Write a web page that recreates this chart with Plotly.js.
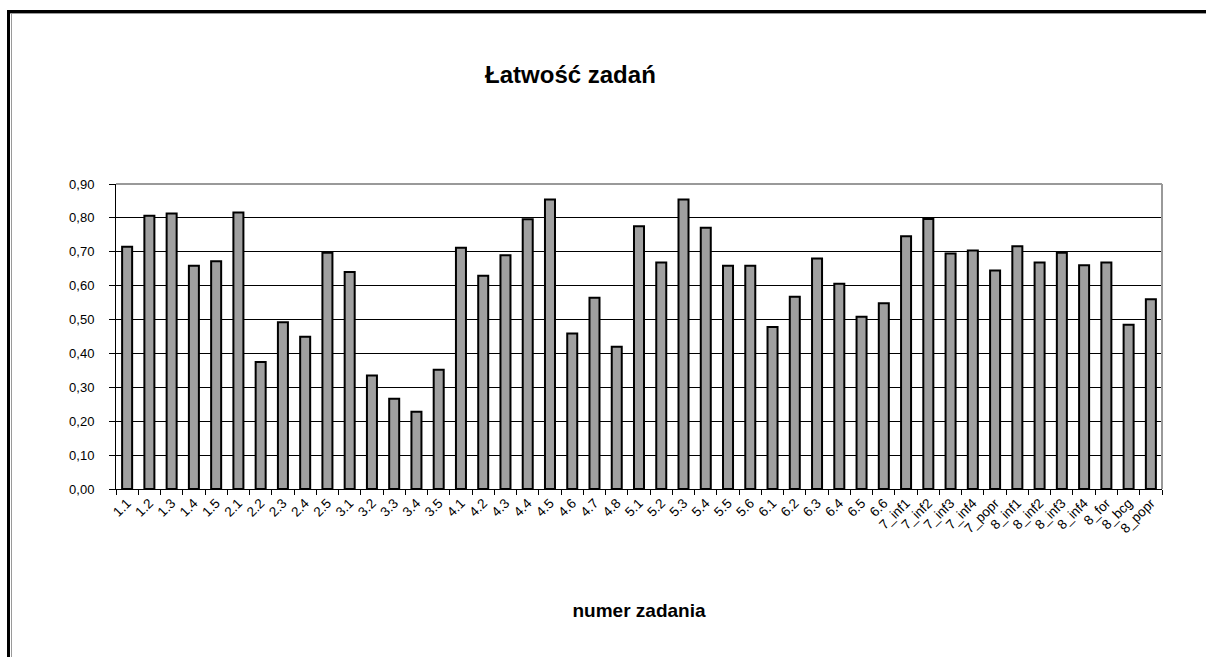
<!DOCTYPE html>
<html>
<head>
<meta charset="utf-8">
<script src="https://cdn.plot.ly/plotly-3.0.1.min.js"></script>
<style>
  html, body { margin: 0; padding: 0; background: #fff; }
  #wrap { position: relative; width: 1206px; height: 657px; overflow: hidden; }
  #chart { position: absolute; left: 0; top: 0; width: 1206px; height: 657px; }
  .frameTop { position: absolute; left: 7px; top: 10px; right: 0; height: 3px; background: #000; }
  .frameTop2 { position: absolute; left: 10px; top: 13px; right: 0; height: 1px; background: #9a9a9a; }
  .frameLeft { position: absolute; left: 7px; top: 10px; bottom: 0; width: 3px; background: #000; }
  .frameLeft2 { position: absolute; left: 11px; top: 13px; bottom: 0; width: 1px; background: #9a9a9a; }
</style>
</head>
<body>
<div id="wrap">
  <div id="chart"></div>
  <div class="frameTop"></div>
  <div class="frameTop2"></div>
  <div class="frameLeft"></div>
  <div class="frameLeft2"></div>
</div>
<script>
const categories = ["1.1","1.2","1.3","1.4","1.5","2.1","2.2","2.3","2.4","2.5",
  "3.1","3.2","3.3","3.4","3.5","4.1","4.2","4.3","4.4","4.5","4.6","4.7","4.8",
  "5.1","5.2","5.3","5.4","5.5","5.6","6.1","6.2","6.3","6.4","6.5","6.6",
  "7_inf1","7_inf2","7_inf3","7_inf4","7_popr",
  "8_inf1","8_inf2","8_inf3","8_inf4","8_for","8_bcg","8_popr"];
const values = [0.715,0.806,0.813,0.659,0.672,0.816,0.375,0.492,0.449,0.697,
  0.640,0.335,0.266,0.228,0.352,0.712,0.629,0.690,0.796,0.854,0.459,0.564,0.420,
  0.775,0.668,0.854,0.771,0.659,0.659,0.478,0.567,0.680,0.606,0.508,0.548,
  0.746,0.797,0.695,0.704,0.645,
  0.716,0.668,0.697,0.660,0.668,0.485,0.560];
const yTicks = [0,0.1,0.2,0.3,0.4,0.5,0.6,0.7,0.8,0.9];
const titleText = "Łatwość zadań";
const xTitleText = "numer zadania";

const trace = {
  type: "bar",
  x: categories,
  y: values,
  marker: { color: "#a0a0a0", line: { color: "#000", width: 2 } },
  hoverinfo: "x+y"
};

const layout = {
  width: 1206, height: 657,
  margin: { l: 116, r: 44, t: 184, b: 168, pad: 0 },
  paper_bgcolor: "#fff", plot_bgcolor: "#fff",
  separators: ", ",
  font: { family: "Liberation Sans, Arial, sans-serif", color: "#000", size: 12 },
  showlegend: false,
  bargap: 0.55,
  title: {
    text: "<b>" + titleText + "</b>",
    font: { size: 24, family: "Liberation Sans, Arial, sans-serif", color: "#000" },
    xref: "container", x: 0.473, xanchor: "center",
    yref: "container", y: 1 - 75/657, yanchor: "middle"
  },
  xaxis: {
    type: "category",
    tickangle: -45,
    ticks: "outside", ticklen: 5, tickcolor: "#000", tickwidth: 1,
    tickson: "boundaries",
    showline: true, linecolor: "#000", linewidth: 1,
    showgrid: false,
    tickfont: { size: 13.5 },
    title: { text: "<b>" + xTitleText + "</b>", font: { size: 19 }, standoff: 68 },
    automargin: false
  },
  yaxis: {
    range: [0, 0.9],
    tickvals: yTicks,
    tickformat: ".2f",
    ticks: "outside", ticklen: 6, tickcolor: "#000", tickwidth: 1,
    ticklabelstandoff: 12,
    showline: true, linecolor: "#000", linewidth: 1,
    showgrid: true, gridcolor: "#000", gridwidth: 1,
    zeroline: false,
    tickfont: { size: 13 },
    automargin: false
  },
  shapes: [
    { type: "line", xref: "paper", yref: "paper", x0: 0, x1: 1, y0: 1, y1: 1,
      line: { color: "#999", width: 2 } },
    { type: "line", xref: "paper", yref: "paper", x0: 1, x1: 1, y0: 0, y1: 1,
      line: { color: "#999", width: 2 } }
  ]
};

Plotly.newPlot("chart", [trace], layout, { displayModeBar: false, staticPlot: true });
</script>
</body>
</html>
